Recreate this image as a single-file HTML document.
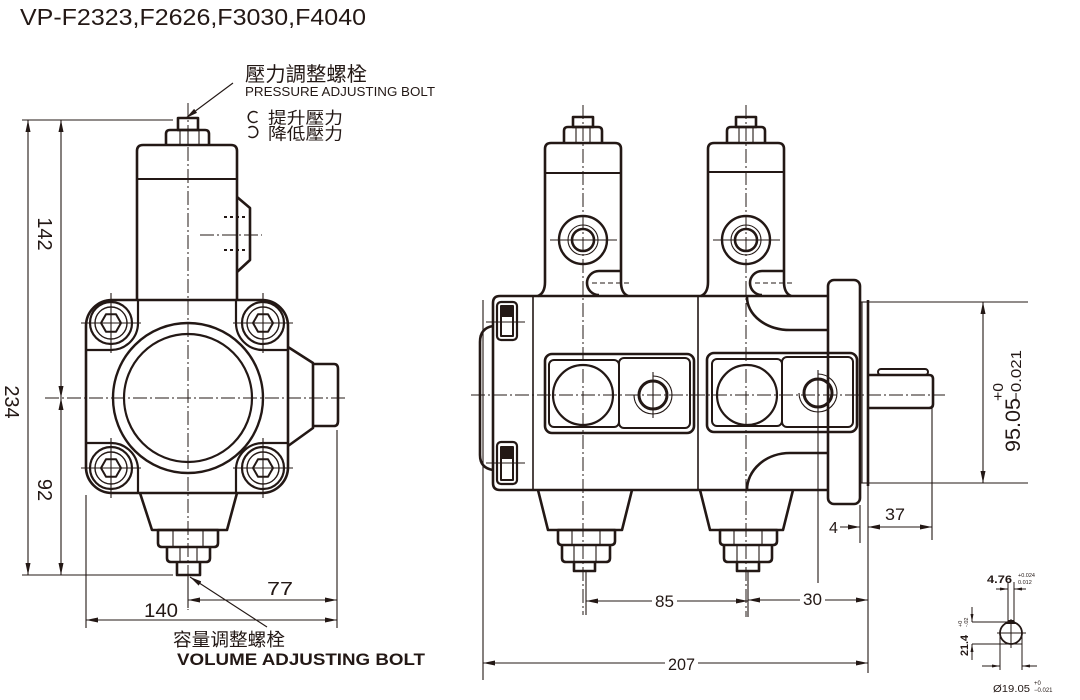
<!DOCTYPE html>
<html><head><meta charset="utf-8"><style>
html,body{margin:0;padding:0;background:#fff;}
svg{display:block;}
text{font-family:"Liberation Sans","Noto Sans CJK TC",sans-serif;fill:#231815;}
</style></head><body>
<svg width="1080" height="700" viewBox="0 0 1080 700" xmlns="http://www.w3.org/2000/svg">
<defs>
<marker id="ar" viewBox="0 0 12 5" refX="12" refY="2.5" markerWidth="12" markerHeight="5" orient="auto-start-reverse" markerUnits="userSpaceOnUse"><path d="M0,0 L12,2.5 L0,5 z" fill="#231815"/></marker>
<marker id="sm" viewBox="0 0 8 3" refX="8" refY="1.5" markerWidth="8" markerHeight="3" orient="auto-start-reverse" markerUnits="userSpaceOnUse"><path d="M0,0 L8,1.5 L0,3 z" fill="#231815"/></marker>
</defs>

<text x="20" y="25" font-size="23.5" textLength="346" lengthAdjust="spacingAndGlyphs">VP-F2323,F2626,F3030,F4040</text>

<!-- ============ LEFT VIEW ============ -->
<g fill="none" stroke="#231815" stroke-width="1" stroke-dasharray="14 3 2 3">
<line x1="188" y1="103" x2="188" y2="610"/>
<line x1="45" y1="398" x2="348" y2="398"/>
<line x1="200" y1="235" x2="262" y2="235"/>
</g>
<g fill="none" stroke="#231815" stroke-width="1.1">
<line x1="22" y1="120" x2="173" y2="120"/>
<line x1="22" y1="575" x2="173" y2="575"/>
<line x1="28" y1="120" x2="28" y2="575" marker-start="url(#ar)" marker-end="url(#ar)"/>
<line x1="61" y1="120" x2="61" y2="398" marker-start="url(#ar)" marker-end="url(#ar)"/>
<line x1="61" y1="398" x2="61" y2="575" marker-start="url(#ar)" marker-end="url(#ar)"/>
<line x1="86" y1="495" x2="86" y2="628"/>
<line x1="337" y1="430" x2="337" y2="628"/>
<line x1="188" y1="577" x2="188" y2="608"/>
<line x1="188" y1="600" x2="337" y2="600" marker-start="url(#ar)" marker-end="url(#ar)"/>
<line x1="86" y1="620" x2="337" y2="620" marker-start="url(#ar)" marker-end="url(#ar)"/>
<line x1="233" y1="83" x2="186" y2="118" marker-end="url(#ar)"/>
<line x1="267" y1="627" x2="190" y2="577" marker-end="url(#ar)"/>
<line x1="81" y1="323" x2="141" y2="323"/><line x1="111" y1="293" x2="111" y2="353"/>
<line x1="233" y1="323" x2="293" y2="323"/><line x1="263" y1="293" x2="263" y2="353"/>
<line x1="81" y1="468" x2="141" y2="468"/><line x1="111" y1="438" x2="111" y2="498"/>
<line x1="233" y1="468" x2="293" y2="468"/><line x1="263" y1="438" x2="263" y2="498"/>
<line x1="180" y1="130" x2="180" y2="145"/><line x1="188" y1="130" x2="188" y2="145"/><line x1="199" y1="130" x2="199" y2="145"/>
<line x1="173" y1="530" x2="173" y2="547"/><line x1="203" y1="530" x2="203" y2="547"/>
<line x1="180" y1="547" x2="180" y2="562"/><line x1="197" y1="547" x2="197" y2="562"/>
<line x1="224" y1="217" x2="246" y2="217" stroke-dasharray="3 3" stroke-width="2"/>
<line x1="224" y1="250" x2="246" y2="250" stroke-dasharray="3 3" stroke-width="2"/>
</g>
<g fill="none" stroke="#231815" stroke-width="2.6" stroke-linejoin="round">
<rect x="178" y="118" width="20" height="12"/>
<path d="M166,145 V134 Q166,130 170,130 H205 Q209,130 209,134 V145"/>
<path d="M137,300 V151 Q137,145 143,145 H231 Q237,145 237,151 V300"/>
<line x1="137" y1="179" x2="237" y2="179" stroke-width="2"/>
<polyline points="237,197 250,208 250,260 237,272"/>
<rect x="86" y="300" width="202" height="193" rx="26"/>
<path d="M86,350 H111 A27,27 0 0 0 138,323 V300" stroke-width="2.2"/>
<path d="M288,350 H263 A27,27 0 0 1 236,323 V300" stroke-width="2.2"/>
<path d="M86,443 H111 A27,27 0 0 1 138,468 V493" stroke-width="2.2"/>
<path d="M288,443 H263 A27,27 0 0 0 236,468 V493" stroke-width="2.2"/>
<g stroke-width="2.2">
<circle cx="111" cy="323" r="21"/><circle cx="263" cy="323" r="21"/>
<circle cx="111" cy="468" r="21"/><circle cx="263" cy="468" r="21"/>
</g>
<g stroke-width="1.4">
<circle cx="111" cy="323" r="16"/><circle cx="263" cy="323" r="16"/>
<circle cx="111" cy="468" r="16"/><circle cx="263" cy="468" r="16"/>
</g>
<g stroke-width="2">
<polygon points="121,323 116,331.7 106,331.7 101,323 106,314.3 116,314.3"/>
<polygon points="273,323 268,331.7 258,331.7 253,323 258,314.3 268,314.3"/>
<polygon points="121,468 116,476.7 106,476.7 101,468 106,459.3 116,459.3"/>
<polygon points="273,468 268,476.7 258,476.7 253,468 258,459.3 268,459.3"/>
</g>
<circle cx="188" cy="398" r="75" stroke-width="2.4"/>
<circle cx="188" cy="398" r="64" stroke-width="2.2"/>
<polyline points="288,347 313,363 313,428 288,446"/>
<path d="M313,364 H334 Q338,364 338,369 V421 Q338,426 334,426 H313"/>
<path d="M140,493 L152,530 H227 L237,493"/>
<path d="M158,530 V543 Q158,547 162,547 H214 Q218,547 218,543 V530 Z"/>
<path d="M167,547 V558 Q167,562 171,562 H206 Q210,562 210,558 V547"/>
<path d="M177,562 V575 H200 V562"/>
</g>
<text x="245" y="81" font-size="20" textLength="122" lengthAdjust="spacingAndGlyphs">壓力調整螺栓</text>
<text x="245" y="96" font-size="13" textLength="190" lengthAdjust="spacingAndGlyphs">PRESSURE ADJUSTING BOLT</text>
<g fill="none" stroke="#231815" stroke-width="1.5">
<path d="M257.5,113 A5.5,5.5 0 1 0 257.5,121"/>
<path d="M248.5,128 A5.5,5.5 0 1 1 248.5,136"/>
</g>
<text x="268" y="123.5" font-size="16.5" textLength="75" lengthAdjust="spacingAndGlyphs">提升壓力</text>
<text x="268" y="139.5" font-size="16.5" textLength="75" lengthAdjust="spacingAndGlyphs">降低壓力</text>
<text transform="translate(38,234) rotate(90)" text-anchor="middle" font-size="20">142</text>
<text transform="translate(5,402) rotate(90)" text-anchor="middle" font-size="20">234</text>
<text transform="translate(38,490) rotate(90)" text-anchor="middle" font-size="20">92</text>
<text x="267" y="595" font-size="18" textLength="26" lengthAdjust="spacingAndGlyphs">77</text>
<text x="144" y="617" font-size="19" textLength="34" lengthAdjust="spacingAndGlyphs">140</text>
<text x="173" y="646" font-size="18" textLength="112" lengthAdjust="spacingAndGlyphs">容量调整螺栓</text>
<text x="177" y="665" font-size="17" font-weight="bold" textLength="248" lengthAdjust="spacingAndGlyphs">VOLUME ADJUSTING BOLT</text>

<!-- ============ RIGHT VIEW ============ -->
<g fill="none" stroke="#231815" stroke-width="1" stroke-dasharray="14 3 2 3">
<line x1="583" y1="105" x2="583" y2="615"/>
<line x1="746" y1="105" x2="746" y2="617"/>
<line x1="471" y1="395" x2="945" y2="395"/>
</g>
<g fill="none" stroke="#231815" stroke-width="1.1">
<line x1="550" y1="240" x2="617" y2="240"/>
<line x1="713" y1="240" x2="780" y2="240"/>
<line x1="592" y1="283" x2="632" y2="283" stroke-dasharray="5 3"/>
<line x1="755" y1="283" x2="795" y2="283" stroke-dasharray="5 3"/>
<line x1="653" y1="372" x2="653" y2="418"/>
<line x1="818" y1="370" x2="818" y2="583"/>
<line x1="486" y1="322" x2="525" y2="322"/>
<line x1="486" y1="463" x2="525" y2="463"/>
<line x1="576" y1="127" x2="576" y2="143"/><line x1="590" y1="127" x2="590" y2="143"/>
<line x1="739" y1="127" x2="739" y2="143"/><line x1="753" y1="127" x2="753" y2="143"/>
<line x1="572" y1="530" x2="572" y2="545"/><line x1="600" y1="530" x2="600" y2="545"/>
<line x1="574" y1="545" x2="574" y2="562"/><line x1="596" y1="545" x2="596" y2="562"/>
<line x1="734" y1="530" x2="734" y2="545"/><line x1="762" y1="530" x2="762" y2="545"/>
<line x1="737" y1="545" x2="737" y2="562"/><line x1="759" y1="545" x2="759" y2="562"/>
<circle cx="583" cy="240" r="15"/>
<circle cx="746" cy="240" r="15"/>
<path d="M653,376 A19,19 0 1 1 634,395"/>
<path d="M818,374 A19,19 0 1 1 799,393"/>
<line x1="862" y1="302" x2="862" y2="483"/>
<line x1="860" y1="302" x2="868" y2="302"/>
<line x1="860" y1="483" x2="868" y2="483"/>
<line x1="868" y1="302" x2="1028" y2="302"/>
<line x1="868" y1="483" x2="1028" y2="483"/>
<line x1="983" y1="302" x2="983" y2="483" marker-start="url(#ar)" marker-end="url(#ar)"/>
<line x1="860" y1="505" x2="860" y2="543"/>
<line x1="868" y1="486" x2="868" y2="673"/>
<line x1="932" y1="408" x2="932" y2="540"/>
<line x1="483" y1="300" x2="483" y2="680"/>
<line x1="586" y1="572" x2="586" y2="615"/>
<line x1="748" y1="572" x2="748" y2="617"/>
<line x1="840" y1="527" x2="860" y2="527" marker-end="url(#ar)"/>
<line x1="868" y1="527" x2="932" y2="527" marker-start="url(#ar)" marker-end="url(#ar)"/>
<line x1="483" y1="663" x2="868" y2="663" marker-start="url(#ar)" marker-end="url(#ar)"/>
<line x1="586" y1="601" x2="748" y2="601" marker-start="url(#ar)" marker-end="url(#ar)"/>
<line x1="748" y1="600" x2="868" y2="600" marker-start="url(#ar)" marker-end="url(#ar)"/>
</g>
<g fill="none" stroke="#231815" stroke-width="2.6" stroke-linejoin="round">
<path d="M538,296 Q545,293 545,282 V149 Q545,143 551,143 H615 Q621,143 621,149 V282 Q621,293 628,296"/>
<line x1="545" y1="173" x2="621" y2="173" stroke-width="2"/>
<rect x="573" y="117" width="20" height="10"/>
<path d="M564,143 V131 Q564,127 568,127 H598 Q602,127 602,131 V143"/>
<circle cx="583" cy="240" r="24" stroke-width="2.4"/>
<circle cx="583" cy="240" r="11"/>
<path d="M621,271 H599 A12,12 0 0 0 599,295"/>
<path d="M701,296 Q708,293 708,282 V149 Q708,143 714,143 H778 Q784,143 784,149 V282 Q784,293 791,296"/>
<line x1="708" y1="172" x2="784" y2="172" stroke-width="2"/>
<rect x="736" y="117" width="20" height="10"/>
<path d="M727,143 V131 Q727,127 731,127 H761 Q765,127 765,131 V143"/>
<circle cx="746" cy="240" r="24" stroke-width="2.4"/>
<circle cx="746" cy="240" r="11"/>
<path d="M784,271 H762 A12,12 0 0 0 762,295"/>
<path d="M828,296 H500 Q493,296 493,303 V483 Q493,490 500,490 H828"/>
<path d="M493,326 Q480,328 480,342 V455 Q480,468 493,470"/>
<rect x="497" y="302" width="20" height="38" rx="4" stroke-width="2.2"/>
<rect x="501" y="306" width="12" height="30" stroke-width="2"/>
<rect x="497" y="442" width="20" height="42" rx="4" stroke-width="2.2"/>
<rect x="501" y="447" width="12" height="33" stroke-width="2"/>
<line x1="533" y1="296" x2="533" y2="490" stroke-width="1.6"/>
<line x1="698" y1="296" x2="698" y2="490" stroke-width="1.6"/>
<rect x="545" y="354" width="149" height="79" rx="7"/>
<rect x="549" y="360" width="70" height="67" rx="5" stroke-width="2"/>
<rect x="619" y="358" width="71" height="70" rx="5" stroke-width="2"/>
<circle cx="583" cy="395" r="30" stroke-width="2.2"/>
<circle cx="653" cy="395" r="14" stroke-width="3"/>
<rect x="707" y="353" width="150" height="79" rx="7"/>
<rect x="712" y="359" width="70" height="67" rx="5" stroke-width="2"/>
<rect x="782" y="357" width="71" height="70" rx="5" stroke-width="2"/>
<circle cx="747" cy="395" r="30" stroke-width="2.2"/>
<circle cx="818" cy="393" r="14" stroke-width="3"/>
<path d="M747,297 A43,33 0 0 0 790,330 H828"/>
<path d="M828,453 H790 A43,37 0 0 0 747,490"/>
<rect x="828" y="280" width="32" height="224" rx="6"/>
<line x1="868" y1="300" x2="868" y2="486"/>
<path d="M869,375 H929 Q933,375 933,379 V404 Q933,408 929,408 H869"/>
<rect x="878" y="369" width="50" height="6" rx="3" stroke-width="2"/>
<path d="M538,490 L548,530 H622 L632,490"/>
<path d="M558,530 V541 Q558,545 562,545 H611 Q615,545 615,541 V530 Z"/>
<path d="M562,545 V558 Q562,562 566,562 H606 Q610,562 610,558 V545"/>
<path d="M574,562 V571 H595 V562"/>
<path d="M700,490 L710,530 H783 L793,490"/>
<path d="M720,530 V541 Q720,545 724,545 H773 Q777,545 777,541 V530 Z"/>
<path d="M724,545 V558 Q724,562 728,562 H768 Q772,562 772,558 V545"/>
<path d="M737,562 V571 H759 V562"/>
</g>
<rect x="502" y="307" width="10" height="10" fill="#231815"/>
<rect x="502" y="448" width="10" height="11" fill="#231815"/>

<text transform="translate(1020,452) rotate(-90)" font-size="21" textLength="54" lengthAdjust="spacingAndGlyphs">95.05</text>
<text transform="translate(1021,402) rotate(-90)" font-size="15" textLength="52" lengthAdjust="spacingAndGlyphs">−0.021</text>
<text transform="translate(1003,401) rotate(-90)" font-size="15" textLength="18" lengthAdjust="spacingAndGlyphs">+0</text>
<text x="829" y="533" font-size="16">4</text>
<text x="885" y="520" font-size="17" textLength="20" lengthAdjust="spacingAndGlyphs">37</text>
<rect x="652" y="594" width="25" height="15" fill="#fff"/>
<text x="655" y="607" font-size="17" textLength="19" lengthAdjust="spacingAndGlyphs">85</text>
<rect x="800" y="590" width="25" height="16" fill="#fff"/>
<text x="803" y="605" font-size="17" textLength="19" lengthAdjust="spacingAndGlyphs">30</text>
<rect x="665" y="656" width="33" height="15" fill="#fff"/>
<text x="668" y="670" font-size="17" textLength="27" lengthAdjust="spacingAndGlyphs">207</text>

<!-- ============ KEYWAY DETAIL ============ -->
<g fill="none" stroke="#231815" stroke-width="1">
<line x1="1008" y1="582" x2="1008" y2="622"/>
<line x1="1014" y1="582" x2="1014" y2="622"/>
<line x1="996" y1="589" x2="1008" y2="589" marker-end="url(#sm)"/>
<line x1="1026" y1="589" x2="1014" y2="589" marker-end="url(#sm)"/>
<line x1="972" y1="622" x2="1008" y2="622"/>
<line x1="972" y1="644" x2="1022" y2="644"/>
<line x1="972" y1="607" x2="972" y2="622" marker-end="url(#sm)"/>
<line x1="972" y1="660" x2="972" y2="644" marker-end="url(#sm)"/>
<line x1="997" y1="633" x2="1026" y2="633"/>
<line x1="1011" y1="619" x2="1011" y2="648"/>
<line x1="1000" y1="633" x2="1000" y2="670"/>
<line x1="1022" y1="633" x2="1022" y2="670"/>
<line x1="982" y1="666" x2="1000" y2="666" marker-end="url(#sm)"/>
<line x1="1037" y1="666" x2="1022" y2="666" marker-end="url(#sm)"/>
<circle cx="1011" cy="633" r="11" stroke-width="1.8"/>
</g>
<path d="M1006,624 L1008,620 H1014 L1016,624 Z" fill="#231815"/>
<text x="987" y="583" font-size="11" font-weight="bold" textLength="25" lengthAdjust="spacingAndGlyphs">4.76</text>
<text x="1018" y="577" font-size="5.5">+0.024</text>
<text x="1018" y="584" font-size="5.5">0.012</text>
<text transform="translate(968,656) rotate(-90)" font-size="11" font-weight="bold" textLength="21" lengthAdjust="spacingAndGlyphs">21.4</text>
<text transform="translate(962,627) rotate(-90)" font-size="5.5">+0</text>
<text transform="translate(968,627) rotate(-90)" font-size="5.5">-.02</text>
<text x="993" y="692" font-size="10" textLength="37" lengthAdjust="spacingAndGlyphs">Ø19.05</text>
<text x="1034" y="685" font-size="6">+0</text>
<text x="1034" y="692" font-size="6">−0.021</text>
</svg>
</body></html>
